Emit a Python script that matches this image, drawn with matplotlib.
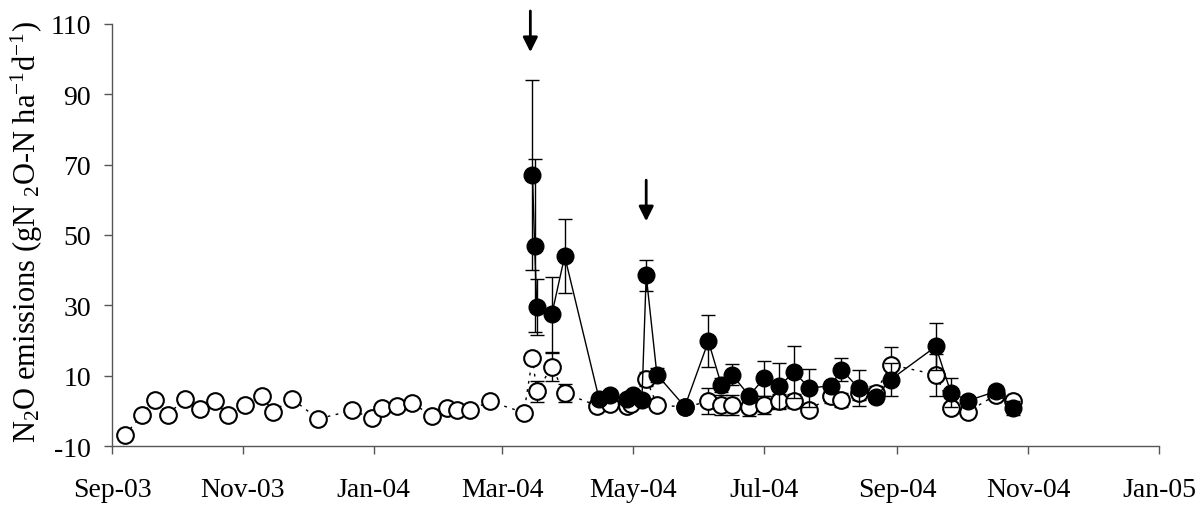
import pandas as pd
import matplotlib.pyplot as plt
import matplotlib.dates as mdates

plt.rcParams['font.family'] = ['Liberation Serif', 'DejaVu Serif']
plt.rcParams['mathtext.fontset'] = 'custom'
plt.rcParams['mathtext.rm'] = 'Liberation Serif'
plt.rcParams['mathtext.it'] = 'Liberation Serif:italic'
plt.rcParams['mathtext.default'] = 'regular'
plt.rcParams['axes.unicode_minus'] = False

# open circles (control)
open_dates = ["2003-09-07", "2003-09-15", "2003-09-21", "2003-09-27", "2003-10-05",
              "2003-10-12", "2003-10-19", "2003-10-25", "2003-11-02", "2003-11-10",
              "2003-11-15", "2003-11-24", "2003-12-06", "2003-12-22", "2003-12-31",
              "2004-01-05", "2004-01-12", "2004-01-19", "2004-01-28", "2004-02-04",
              "2004-02-09", "2004-02-15", "2004-02-24", "2004-03-11", "2004-03-15",
              "2004-03-17", "2004-03-24", "2004-03-30", "2004-04-14", "2004-04-20",
              "2004-04-28", "2004-04-30", "2004-05-07", "2004-05-12", "2004-05-25",
              "2004-06-05", "2004-06-11", "2004-06-16", "2004-06-24", "2004-07-01",
              "2004-07-08", "2004-07-15", "2004-07-22", "2004-08-01", "2004-08-06",
              "2004-08-14", "2004-08-22", "2004-08-29", "2004-09-19", "2004-09-26",
              "2004-10-04", "2004-10-17", "2004-10-25"]
open_vals = [-7.0, -1.1, 3.2, -1.1, 3.4, 0.5, 2.7, -1.1, 1.7, 4.1,
             -0.2, 3.4, -2.3, 0.1, -2.0, 0.8, 1.5, 2.2, -1.4, 0.8,
             0.3, 0.1, 2.7, -0.5, 15.0, 5.5, 12.5, 5.0, 1.5, 2.0,
             1.5, 2.0, 9.0, 1.8, 1.0, 2.7, 1.7, 1.7, 1.1, 1.7,
             2.7, 2.7, 0.3, 4.1, 3.1, 5.0, 5.2, 13.1, 10.3, 0.8,
             -0.2, 4.5, 2.7]
open_err = [0, 0, 0, 0, 0, 0, 0, 0, 0, 0,
            0, 0, 0, 0, 0, 0, 0, 0, 0, 0,
            0, 0, 0, 0, 1.5, 3.0, 4.0, 2.5, 1.0, 1.0,
            1.0, 1.0, 2.0, 1.5, 1.0, 3.7, 2.8, 2.8, 2.5, 2.5,
            2.0, 2.0, 1.5, 2.0, 2.0, 2.0, 2.0, 5.0, 6.0, 1.5,
            1.5, 1.0, 1.5]

# filled circles (fertilised)
fert_dates = ["2004-03-15", "2004-03-16", "2004-03-17", "2004-03-24", "2004-03-30",
              "2004-04-15", "2004-04-20", "2004-04-28", "2004-05-01", "2004-05-05",
              "2004-05-07", "2004-05-12", "2004-05-25", "2004-06-05", "2004-06-11",
              "2004-06-16", "2004-06-24", "2004-07-01", "2004-07-08", "2004-07-15",
              "2004-07-22", "2004-08-01", "2004-08-06", "2004-08-14", "2004-08-22",
              "2004-08-29", "2004-09-19", "2004-09-26", "2004-10-04", "2004-10-17",
              "2004-10-25"]
fert_vals = [67.0, 47.0, 29.5, 27.4, 44.0, 3.5, 4.5, 3.5, 4.5, 3.0,
             38.5, 10.3, 1.2, 19.8, 7.4, 10.3, 4.3, 9.3, 7.1, 11.0,
             6.5, 7.1, 11.7, 6.5, 3.9, 8.9, 18.3, 5.2, 2.9, 5.5,
             0.8]
fert_err = [27.0, 24.5, 8.0, 10.7, 10.5, 1.0, 1.0, 1.0, 1.0, 1.0,
            4.5, 2.0, 1.0, 7.4, 2.0, 3.0, 1.0, 5.0, 6.5, 7.3,
            5.3, 1.0, 3.3, 5.2, 1.0, 4.8, 6.7, 4.0, 1.0, 1.5,
            2.0]

# fertiliser application arrows: date, tail, head
arrow_dates = ["2004-03-14", "2004-05-07"]
arrow_tail = [113.7, 65.6]
arrow_head = [102.0, 53.9]

od = pd.to_datetime(open_dates)
fd = pd.to_datetime(fert_dates)

fig = plt.figure(figsize=(12.04, 5.06), dpi=100)
ax = fig.add_axes([0.093, 0.1166, 0.8696, 0.834])

ax.errorbar(od, open_vals, yerr=open_err, fmt='none', ecolor='black',
            elinewidth=1, capsize=5, capthick=1, zorder=2)
ax.plot(od, open_vals, ls=(0, (2, 4)), color='black', lw=1, zorder=2)
ax.plot(od, open_vals, 'o', mfc='white', mec='black', ms=12, mew=1.5,
        ls='none', zorder=3)

ax.errorbar(fd, fert_vals, yerr=fert_err, fmt='none', ecolor='black',
            elinewidth=1, capsize=5, capthick=1, zorder=4)
ax.plot(fd, fert_vals, '-', color='black', lw=1, zorder=4)
ax.plot(fd, fert_vals, 'o', mfc='black', mec='black', ms=12, ls='none', zorder=5)

for d, t, h in zip(pd.to_datetime(arrow_dates), arrow_tail, arrow_head):
    ax.annotate('', xy=(d, h), xytext=(d, t), annotation_clip=False,
                arrowprops=dict(arrowstyle='-|>', color='black', lw=2,
                                mutation_scale=22, shrinkA=0, shrinkB=0))

ax.set_xlim(pd.Timestamp("2003-09-01"), pd.Timestamp("2005-01-01"))
ax.set_ylim(-10, 110)
ax.set_yticks(range(-10, 111, 20))
ax.xaxis.set_major_locator(mdates.MonthLocator(bymonth=[1, 3, 5, 7, 9, 11]))
ax.xaxis.set_major_formatter(mdates.DateFormatter('%b-%y'))

for s in ['top', 'right']:
    ax.spines[s].set_visible(False)
for s in ['left', 'bottom']:
    ax.spines[s].set_color('#555555')
    ax.spines[s].set_linewidth(1)
ax.tick_params(direction='out', length=6, width=1, color='#555555',
               labelsize=20)
ax.tick_params(axis='y', pad=9)
ax.tick_params(axis='x', pad=16)

ax.set_ylabel('N$_2$O emissions (gN $_2$O-N ha$^{-1}$d$^{-1}$)', fontsize=22)
ax.yaxis.set_label_coords(-0.064, 0.51)

fig.savefig('out.png', dpi=100)
